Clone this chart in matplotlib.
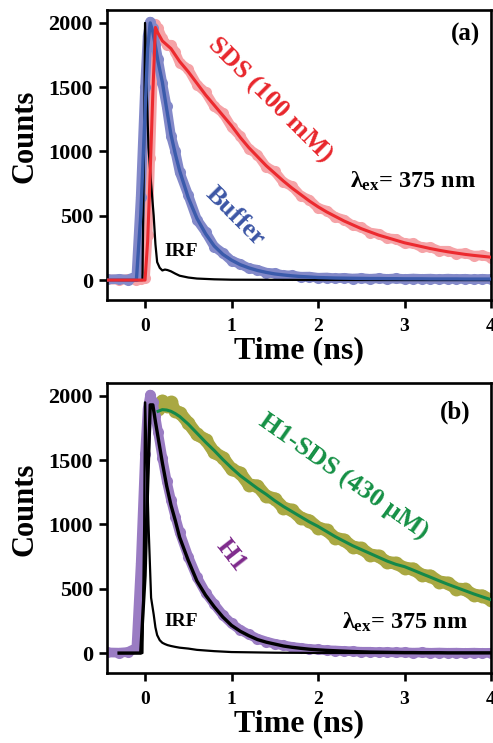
import matplotlib
matplotlib.use("Agg")
import matplotlib.pyplot as plt

nan = float("nan")

# time axis shared by data and fits (ns)
time_grid = [-0.44, -0.3, -0.2, -0.1, -0.05, 0.0, 0.03, 0.06, 0.09, 0.12, 0.15,
             0.2, 0.25, 0.3, 0.35, 0.4, 0.5, 0.6, 0.7, 0.8, 0.9, 1.0, 1.1, 1.2,
             1.3, 1.4, 1.5, 1.6, 1.7, 1.8, 1.9, 2.0, 2.1, 2.2, 2.3, 2.4, 2.5,
             2.6, 2.7, 2.8, 2.9, 3.0, 3.1, 3.2, 3.3, 3.4, 3.5, 3.6, 3.7, 3.8,
             3.9, 4.0]
irf_time = [-0.3, -0.1, -0.03, -0.01, 0.0, 0.02, 0.04, 0.07, 0.1, 0.12, 0.14,
            0.17, 0.2, 0.23, 0.26, 0.3, 0.35, 0.4, 0.5, 0.6, 0.8, 1.0, 1.5,
            2.0, 3.0, 4.0]

# panel (a)
sds_data = [5, 3, 6, 4, 8, 20, 350, 950, 1600, 1990, 1960, 1880, 1830, 1830,
            1770, 1690, 1640, 1520, 1460, 1350, 1300, 1190, 1120, 1020, 975,
            880, 845, 760, 730, 655, 625, 560, 540, 490, 470, 425, 410, 370,
            360, 325, 320, 285, 285, 255, 255, 228, 228, 205, 208, 190, 192, 175]
sds_fit = [0, 0, 0, 0, 0, 0, 300, 850, 1450, 1965, 1920, 1860, 1830, 1800,
           1750, 1700, 1620, 1530, 1440, 1360, 1280, 1200, 1110, 1030, 960,
           890, 830, 770, 715, 665, 615, 570, 530, 495, 460, 430, 400, 375,
           350, 330, 310, 290, 275, 260, 245, 232, 220, 210, 200, 192, 185, 178]
buffer_data = [5, 8, 4, 30, 650, 1500, 1900, 2010, 1960, 1830, 1720, 1530,
               1350, 1120, 1000, 840, 660, 470, 375, 260, 210, 150, 125, 92,
               80, 58, 52, 38, 36, 26, 27, 18, 20, 14, 17, 12, 15, 10, 14, 9,
               13, 8, 12, 9, 11, 7, 11, 8, 10, 6, 10, 7]
buffer_fit = [0, 0, 0, 0, 500, 1300, 1800, 2000, 1930, 1820, 1700, 1540, 1330,
              1130, 980, 850, 640, 480, 360, 265, 200, 155, 120, 95, 75, 60,
              48, 40, 33, 28, 24, 20, 18, 16, 15, 14, 13, 12, 12, 11, 11, 10,
              10, 10, 9, 9, 9, 9, 8, 8, 8, 8]
irf_a = [0, 0, 0, 1100, 2000, 1450, 1030, 750, 500, 280, 140, 95, 75, 82, 78,
         68, 50, 34, 20, 12, 6, 3, 2, 1, 0, 0]

# panel (b)
h1_data = [5, 3, 8, 40, 700, 1550, 1900, 2010, 1950, 1840, 1720, 1520, 1340,
           1190, 1060, 940, 750, 590, 470, 380, 295, 230, 180, 145, 112, 90,
           72, 60, 48, 40, 32, 28, 22, 20, 16, 14, 10, 10, 7, 8, 5, 6, 3, 5,
           2, 4, 2, 3, 1, 3, 1, 2]
h1_fit = [nan, 0, 0, 0, 0, 600, 1300, 1930, 1930, 1800, 1680, 1480, 1300,
          1150, 1030, 900, 720, 560, 450, 360, 280, 215, 170, 135, 105, 85,
          70, 55, 45, 37, 30, 25, 21, 18, 15, 12, 10, 8, 7, 6, 5, 4, 4, 3, 3,
          3, 2, 2, 2, 2, 2, 2]
h1sds_data = [nan, nan, nan, nan, nan, nan, nan, nan, nan, nan, 1900, 1960,
              1920, 1950, 1880, 1870, 1790, 1700, 1660, 1560, 1520, 1430,
              1400, 1310, 1300, 1220, 1200, 1130, 1110, 1050, 1030, 975, 955,
              895, 880, 825, 815, 765, 755, 705, 700, 660, 655, 605, 600, 555,
              545, 500, 495, 450, 445, 410]
h1sds_fit = [nan, nan, nan, nan, nan, nan, nan, nan, nan, nan, 1880, 1893,
             1890, 1880, 1862, 1840, 1780, 1710, 1640, 1575, 1505, 1440, 1380,
             1330, 1280, 1235, 1185, 1140, 1100, 1060, 1020, 985, 945, 905,
             870, 835, 805, 775, 745, 715, 690, 672, 645, 617, 590, 562, 535,
             510, 485, 460, 437, 415]
irf_b = [0, 0, 0, 1000, 1950, 1500, 1000, 430, 300, 200, 140, 100, 80, 70,
         62, 55, 48, 42, 35, 25, 15, 8, 3, 1, 0, 0]

x_ticks = [0, 1, 2, 3, 4]
y_ticks = [0, 500, 1000, 1500, 2000]

serif = "Liberation Serif"
plt.rcParams["font.family"] = serif
plt.rcParams["font.weight"] = "bold"
plt.rcParams["mathtext.fontset"] = "custom"
plt.rcParams["mathtext.rm"] = "Liberation Serif:bold"
plt.rcParams["mathtext.it"] = "Liberation Serif:bold"
plt.rcParams["mathtext.bf"] = "Liberation Serif:bold"

fig = plt.figure(figsize=(4.93, 7.43), dpi=100)
ax1 = fig.add_axes([0.217, 0.5962, 0.779, 0.3903])
ax2 = fig.add_axes([0.217, 0.0942, 0.779, 0.3903])


def band(ax, y, color, lw, ms):
    ax.plot(time_grid, y, color=color, lw=lw, marker="o", ms=ms,
            mec="none", solid_capstyle="round", zorder=2)


def style(ax):
    ax.set_xlim(-0.44, 4.0)
    ax.set_ylim(-155, 2100)
    ax.set_xticks(x_ticks)
    ax.set_yticks(y_ticks)
    for s in ax.spines.values():
        s.set_linewidth(1.9)
    ax.tick_params(axis="both", direction="out", length=6, width=1.9)
    ax.tick_params(axis="x", labelsize=14, pad=7)
    ax.tick_params(axis="y", labelsize=16, pad=4)
    ax.set_xlabel("Time (ns)", fontsize=23, fontweight="bold", labelpad=1)
    ax.set_ylabel("Counts", fontsize=22, fontweight="bold")
    ax.yaxis.set_label_coords(-0.177, 0.566)


# (a) buffer and SDS
band(ax1, sds_data, "#f5a3a7", 7, 8)
band(ax1, buffer_data, "#8389c9", 7, 8)
ax1.plot(irf_time, irf_a, color="black", lw=1.6, zorder=3)
ax1.plot(time_grid, buffer_fit, color="#3b5bab", lw=2.4, zorder=4)
ax1.plot(time_grid, sds_fit, color="#ec2a2f", lw=2.2, zorder=4)
style(ax1)
ax1.text(1.44, 1400, "SDS (100 mM)", color="#e8262c", fontsize=19,
         rotation=-45, rotation_mode="anchor", ha="center", va="center")
ax1.text(1.04, 494, "Buffer", color="#3c56a5", fontsize=19,
         rotation=-45, rotation_mode="anchor", ha="center", va="center")
ax1.text(0.42, 226, "IRF", fontsize=14, ha="center", va="center")
ax1.text(2.37, 716, r"$\lambda_{ex}$= 375 nm", fontsize=17.5,
         ha="left", va="baseline")
ax1.text(3.71, 1913, "(a)", fontsize=18, ha="center", va="center")

# (b) H1 and H1-SDS
band(ax2, h1sds_data, "#a9a842", 9, 10)
band(ax2, h1_data, "#9a7cc3", 7, 8)
ax2.plot(irf_time, irf_b, color="black", lw=1.6, zorder=3)
ax2.plot(time_grid, h1_fit, color="black", lw=2.4, zorder=4)
ax2.plot(time_grid, h1sds_fit, color="#14894a", lw=2.2, zorder=4)
style(ax2)
ax2.text(2.29, 1369, "H1-SDS (430 \u03bcM)", color="#159045", fontsize=19,
         rotation=-35, rotation_mode="anchor", ha="center", va="center")
ax2.text(0.99, 759, "H1", color="#7e2a8c", fontsize=19,
         rotation=-52, rotation_mode="anchor", ha="center", va="center")
ax2.text(0.42, 242, "IRF", fontsize=14, ha="center", va="center")
ax2.text(2.28, 187, r"$\lambda_{ex}$= 375 nm", fontsize=17.5,
         ha="left", va="baseline")
ax2.text(3.59, 1875, "(b)", fontsize=18, ha="center", va="center")

fig.savefig("out.png", dpi=100)
